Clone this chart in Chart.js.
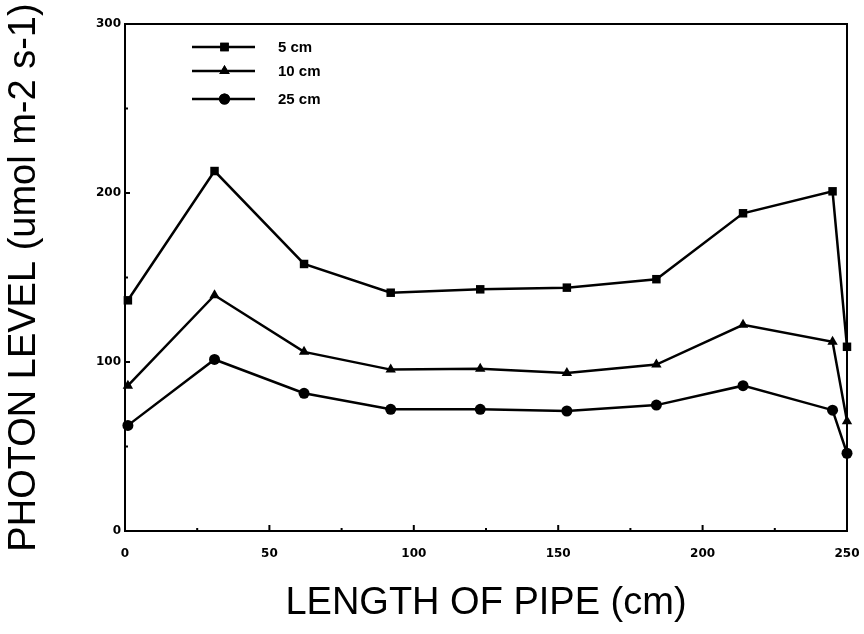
<!DOCTYPE html>
<html>
<head>
<meta charset="utf-8">
<script src="https://cdn.jsdelivr.net/npm/chart.js@4.4.1/dist/chart.umd.min.js"></script>
<style>
    html, body { margin: 0; padding: 0; background: #fff; }
    #chart-box { width: 864px; height: 634px; }
</style>
</head>
<body>
<div id="chart-box"><canvas id="pipe-canvas"></canvas></div>
<script>
const pipeLength = [1, 31, 62, 92, 123, 153, 184, 214, 245, 250];
const level5cm = [136.5, 213, 158, 141, 143, 144, 149, 188, 201, 109];
const level10cm = [86, 139.5, 106, 95.5, 96, 93.5, 98.5, 122, 112, 65];
const level25cm = [62.5, 101.5, 81.5, 72, 72, 71, 74.5, 86, 71.5, 46];
const seriesNames = ['5 cm', '10 cm', '25 cm'];
const xTicks = [0, 50, 100, 150, 200, 250];
const yTicks = [0, 100, 200, 300];

const toPoints = (values) => values.map((v, i) => ({ x: pipeLength[i], y: v }));

const makeSeries = (label, values, style, radius) => ({
    label: label,
    data: toPoints(values),
    borderColor: '#000',
    backgroundColor: '#000',
    borderWidth: 2.5,
    pointStyle: style,
    pointRadius: radius,
    pointHoverRadius: radius,
    pointBorderWidth: 0,
    tension: 0,
    clip: false
});

// frame, inward ticks and the line+marker legend
const framePlugin = {
    id: 'frame',
    afterDatasetsDraw (chart) {
        const { ctx, chartArea, scales } = chart;
        ctx.save();
        ctx.strokeStyle = '#000';
        ctx.lineWidth = 2;
        ctx.strokeRect(chartArea.left, chartArea.top, chartArea.right - chartArea.left, chartArea.bottom - chartArea.top);

        for (let v = 25; v < 250; v += 25) {
            const px = scales.x.getPixelForValue(v);
            const len = v % 50 === 0 ? 6 : 3;
            ctx.beginPath();
            ctx.moveTo(px, chartArea.bottom);
            ctx.lineTo(px, chartArea.bottom - len);
            ctx.stroke();
        };
        for (let v = 50; v < 300; v += 50) {
            const py = scales.y.getPixelForValue(v);
            const len = v % 100 === 0 ? 5 : 3;
            ctx.beginPath();
            ctx.moveTo(chartArea.left, py);
            ctx.lineTo(chartArea.left + len, py);
            ctx.stroke();
        };

        const rows = [23, 47, 75];
        ctx.font = 'bold 15px "Liberation Sans", Arial, sans-serif';
        ctx.textBaseline = 'middle';
        ctx.fillStyle = '#000';
        chart.data.datasets.forEach((ds, i) => {
            const y = chartArea.top + rows[i];
            const x0 = chartArea.left + 67;
            const x1 = chartArea.left + 130;
            ctx.lineWidth = 2.5;
            ctx.beginPath();
            ctx.moveTo(x0, y);
            ctx.lineTo(x1, y);
            ctx.stroke();
            Chart.helpers.drawPoint(ctx, { pointStyle: ds.pointStyle, radius: ds.pointRadius, borderWidth: 0 }, (x0 + x1) / 2 + 1, y);
            ctx.fill();
            ctx.fillText(ds.label, chartArea.left + 153, y + 1);
        });
        ctx.restore();
    }
};

const tickFont = { family: '"DejaVu Sans", sans-serif', size: 12, weight: 'bold' };
const titleFamily = '"Liberation Sans", Arial, sans-serif';

new Chart(document.querySelector('#pipe-canvas'), {
    type: 'line',
    data: {
        datasets: [
            makeSeries(seriesNames[0], level5cm, 'rect', 6),
            makeSeries(seriesNames[1], level10cm, 'triangle', 6),
            makeSeries(seriesNames[2], level25cm, 'circle', 5.5)
        ]
    },
    options: {
        responsive: true,
        maintainAspectRatio: false,
        animation: false,
        layout: { padding: { top: 24, right: 17, left: 0, bottom: 0 } },
        plugins: {
            legend: { display: false },
            tooltip: { enabled: false }
        },
        scales: {
            x: {
                type: 'linear',
                min: 0,
                max: 250,
                afterBuildTicks: (axis) => { axis.ticks = xTicks.map(v => ({ value: v })); },
                afterFit: (axis) => {
                    axis.height = 103;
                    axis.paddingLeft = 0;
                    axis.paddingRight = 0;
                },
                grid: { display: false, drawTicks: false },
                border: { display: false },
                ticks: { color: '#000', font: tickFont, padding: 16, maxRotation: 0 },
                title: {
                    display: true,
                    text: 'LENGTH OF PIPE (cm)',
                    color: '#000',
                    font: { family: titleFamily, size: 38, lineHeight: 1 },
                    padding: { top: 0, bottom: 11 }
                }
            },
            y: {
                min: 0,
                max: 300,
                afterBuildTicks: (axis) => { axis.ticks = yTicks.map(v => ({ value: v })); },
                afterFit: (axis) => { axis.width = 125; },
                grid: { display: false, drawTicks: false },
                border: { display: false },
                ticks: { color: '#000', font: tickFont, padding: 4 },
                title: {
                    display: true,
                    text: 'PHOTON LEVEL (umol m-2 s-1)',
                    color: '#000',
                    font: { family: titleFamily, size: 38, lineHeight: 1 },
                    padding: { top: 6, bottom: 0 }
                }
            }
        }
    },
    plugins: [framePlugin]
});
</script>
</body>
</html>
